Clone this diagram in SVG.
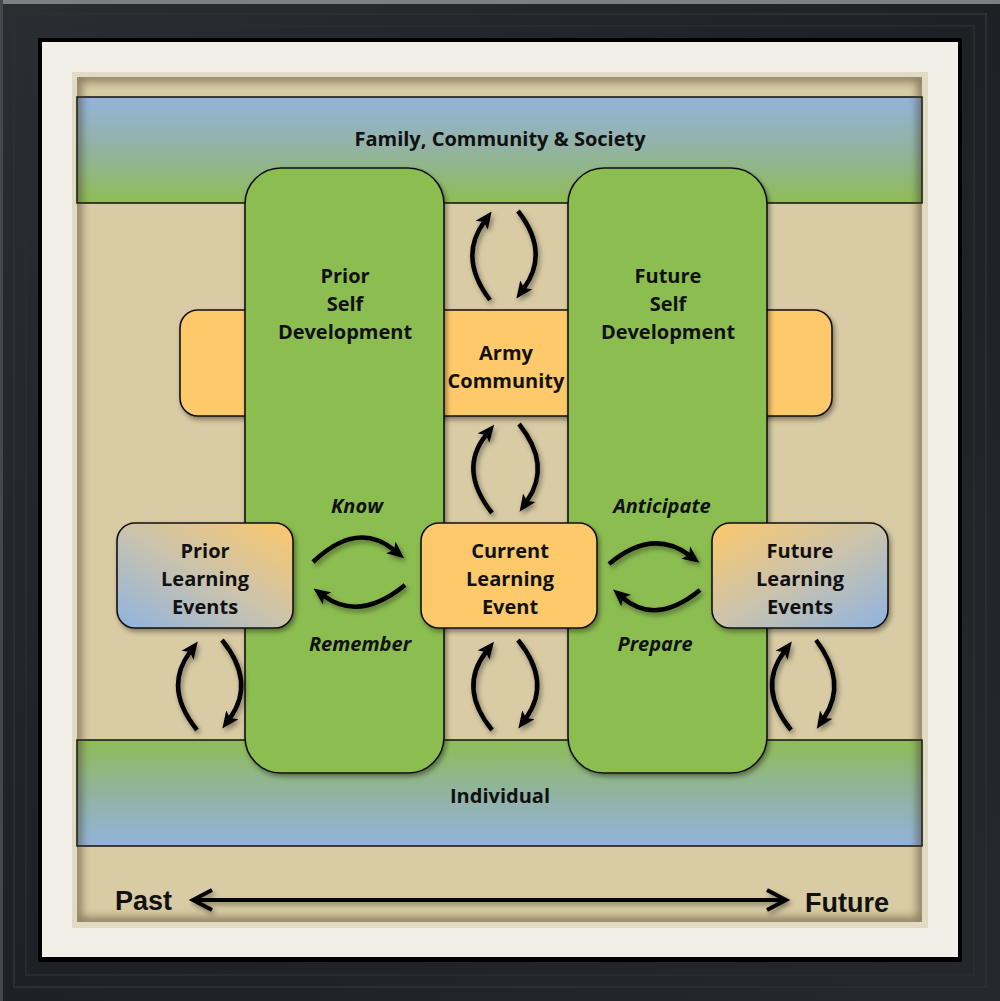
<svg xmlns="http://www.w3.org/2000/svg" width="1000" height="1001" viewBox="0 0 1000 1001">
<style>
.t{font-family:"Open Sans","Noto Sans",sans-serif;font-weight:bold;font-size:20px;fill:#111;text-anchor:middle}
.i{font-style:italic}
.big{font-family:"Liberation Sans",Arial,sans-serif;font-weight:bold;font-size:27px;fill:#111}
.box{stroke:#111;stroke-width:1.6}
.band{stroke:#111;stroke-width:1.5}
.conn{fill:none;stroke:#000;stroke-width:4.5}
.line{fill:none;stroke:#000;stroke-width:4}
</style>
<defs>
<linearGradient id="frameG" x1="0" y1="0" x2="1" y2="1">
<stop offset="0" stop-color="#2a2d32"/><stop offset="0.5" stop-color="#1d2024"/><stop offset="1" stop-color="#25282c"/>
</linearGradient>
<linearGradient id="topBand" x1="0" y1="0" x2="0" y2="1">
<stop offset="0" stop-color="#93b3dc"/><stop offset="0.5" stop-color="#92b3a0"/><stop offset="1" stop-color="#90bd55"/>
</linearGradient>
<linearGradient id="botBand" x1="0" y1="0" x2="0" y2="1">
<stop offset="0" stop-color="#8fbd54"/><stop offset="0.5" stop-color="#92b3a0"/><stop offset="1" stop-color="#93b3dc"/>
</linearGradient>
<linearGradient id="priorG" x1="0" y1="1" x2="1" y2="0">
<stop offset="0" stop-color="#8fb3e0"/><stop offset="0.5" stop-color="#cbc3ad"/><stop offset="1" stop-color="#fcc86a"/>
</linearGradient>
<linearGradient id="futureG" x1="0" y1="0" x2="1" y2="1">
<stop offset="0" stop-color="#fcc86a"/><stop offset="0.5" stop-color="#cbc3ad"/><stop offset="1" stop-color="#8fb3e0"/>
</linearGradient>
<filter id="sh" x="-15%" y="-15%" width="135%" height="135%">
<feDropShadow dx="2" dy="3" stdDeviation="2.5" flood-color="#000" flood-opacity="0.4"/>
</filter>
<filter id="blur" x="-5%" y="-5%" width="110%" height="110%"><feGaussianBlur stdDeviation="4"/></filter>
<clipPath id="tanClip"><rect x="77" y="77" width="845" height="845"/></clipPath>
<marker id="ah" markerUnits="userSpaceOnUse" viewBox="0 -8 18 16" markerWidth="18" markerHeight="16" refX="4" refY="0" orient="auto">
<path d="M0,-7.5 L17,0 L0,7.5 L4,0 z" fill="#000"/>
</marker>
</defs>

<g id="frame">
<rect x="0" y="0" width="1000" height="1001" fill="url(#frameG)"/>
<rect x="0" y="0" width="1000" height="4" fill="#7d7f82"/>
<rect x="0" y="0" width="3" height="1001" fill="#44474b"/>
<rect x="14" y="14" width="972" height="973" fill="none" stroke="#2b2e33" stroke-width="2"/>
<rect x="26" y="26" width="948" height="949" fill="none" stroke="#282b30" stroke-width="2"/>
<rect x="38" y="38" width="924" height="924" fill="#000"/>
<rect x="42" y="42" width="916" height="915" fill="#f2efe8"/>
<rect x="72" y="72" width="856" height="856" fill="#e2dbc3"/>
</g>

<g id="background">
<rect x="77" y="77" width="845" height="845" fill="#d9cba4"/>
<rect class="band" x="77" y="97" width="845" height="106" fill="url(#topBand)"/>
<rect class="band" x="77" y="740" width="845" height="106" fill="url(#botBand)"/>
<g clip-path="url(#tanClip)">
<rect x="77" y="77" width="845" height="845" fill="none" stroke="#3d3420" stroke-width="9" opacity="0.55" filter="url(#blur)"/>
</g>
</g>

<g id="army-community">
<rect class="box" x="180" y="310" width="652" height="106" rx="18" fill="#fdc96b" filter="url(#sh)"/>
<text class="t" x="506" y="360">Army</text>
<text class="t" x="506" y="388">Community</text>
</g>

<g id="prior-self-development">
<rect class="box" x="245" y="168" width="199" height="605" rx="36" fill="#8cbd51" filter="url(#sh)"/>
<text class="t" x="345" y="283">Prior</text>
<text class="t" x="345" y="311">Self</text>
<text class="t" x="345" y="339">Development</text>
</g>

<g id="future-self-development">
<rect class="box" x="568" y="168" width="199" height="605" rx="36" fill="#8cbd51" filter="url(#sh)"/>
<text class="t" x="668" y="283">Future</text>
<text class="t" x="668" y="311">Self</text>
<text class="t" x="668" y="339">Development</text>
</g>

<g id="prior-learning-events">
<rect class="box" x="117" y="523" width="176" height="105" rx="18" fill="url(#priorG)" filter="url(#sh)"/>
<text class="t" x="205" y="558">Prior</text>
<text class="t" x="205" y="586">Learning</text>
<text class="t" x="205" y="614">Events</text>
</g>

<g id="current-learning-event">
<rect class="box" x="421" y="523" width="176" height="105" rx="18" fill="#fdc96b" filter="url(#sh)"/>
<text class="t" x="510" y="558">Current</text>
<text class="t" x="510" y="586">Learning</text>
<text class="t" x="510" y="614">Event</text>
</g>

<g id="future-learning-events">
<rect class="box" x="712" y="523" width="176" height="105" rx="18" fill="url(#futureG)" filter="url(#sh)"/>
<text class="t" x="800" y="558">Future</text>
<text class="t" x="800" y="586">Learning</text>
<text class="t" x="800" y="614">Events</text>
</g>

<g id="band-labels">
<text class="t" x="500" y="146">Family, Community &amp; Society</text>
<text class="t" x="500" y="803">Individual</text>
</g>

<g id="connectors" filter="url(#sh)">
<path class="conn" marker-end="url(#ah)" d="M490,300 Q458,258 484,222"/>
<path class="conn" marker-end="url(#ah)" d="M518,211 Q550,252 524,288"/>
<path class="conn" marker-end="url(#ah)" d="M492,513 Q458,470 486,435"/>
<path class="conn" marker-end="url(#ah)" d="M519,424 Q552,465 527,501"/>
<path class="conn" marker-end="url(#ah)" d="M492,730 Q458,688 486,652"/>
<path class="conn" marker-end="url(#ah)" d="M518,640 Q552,682 526,718"/>
<path class="conn" marker-end="url(#ah)" d="M197,730 Q163,688 190,652"/>
<path class="conn" marker-end="url(#ah)" d="M222,640 Q256,682 230,718"/>
<path class="conn" marker-end="url(#ah)" d="M791,730 Q757,688 784,652"/>
<path class="conn" marker-end="url(#ah)" d="M816,640 Q848,682 824,718"/>
<path class="conn" marker-end="url(#ah)" d="M313,562 Q357,520 394,550"/>
<path class="conn" marker-end="url(#ah)" d="M405,585 Q360,622 324,596"/>
<path class="conn" marker-end="url(#ah)" d="M609,564 Q652,528 689,555"/>
<path class="conn" marker-end="url(#ah)" d="M700,590 Q656,626 623,598"/>
<path class="line" d="M193,900 L786,900 M212,890 L193,900 L212,910 M767,890 L786,900 L767,910"/>
</g>

<g id="labels">
<text class="t i" x="357" y="513">Know</text>
<text class="t i" x="360" y="651">Remember</text>
<text class="t i" x="662" y="513">Anticipate</text>
<text class="t i" x="655" y="651">Prepare</text>
<text class="big" x="115" y="910">Past</text>
<text class="big" x="805" y="912">Future</text>
</g>
</svg>
